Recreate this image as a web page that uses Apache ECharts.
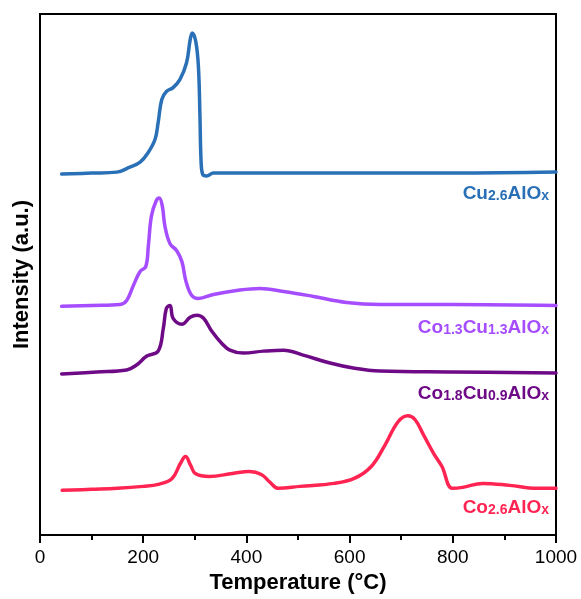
<!DOCTYPE html>
<html>
<head>
<meta charset="utf-8">
<script src="https://cdn.jsdelivr.net/npm/echarts@6/dist/echarts.min.js"></script>
<style>
html,body{margin:0;padding:0;background:#fff;}
#c{width:581px;height:599px;}
</style>
</head>
<body>
<div id="c"></div>
<script>
// ---- data (Temperature in °C, intensity in a.u. with vertical offsets) ----
const xTicks = [0, 200, 400, 600, 800, 1000];
const seriesNames = ['Cu2.6AlOx', 'Co1.3Cu1.3AlOx', 'Co1.8Cu0.9AlOx', 'Co2.6AlOx'];

const cuT = [42, 100, 149, 174, 194, 210, 223, 229, 236, 245, 258, 271, 284, 291, 295, 302, 307, 310, 312, 315, 323, 336, 400, 600, 800, 1000];
const cuI = [363, 364, 365, 370, 375, 385, 398, 415, 438, 446, 450, 458, 475, 498, 505, 496, 471, 421, 378, 363, 361, 364, 364, 364, 364, 365];

const co13T = [42, 100, 155, 168, 181, 194, 205, 210, 216, 225, 231, 237, 242, 252, 265, 275, 283, 294, 307, 336, 381, 426, 472, 530, 594, 659, 800, 1000];
const co13I = [230, 231, 232, 236, 251, 265, 270, 291, 321, 336, 339, 331, 311, 293, 286, 275, 255, 241, 238, 242, 246, 248, 245, 240, 234, 232, 232, 231];

const co18T = [42, 110, 168, 187, 207, 229, 239, 245, 252, 258, 275, 291, 304, 317, 333, 352, 368, 394, 433, 472, 510, 562, 607, 659, 800, 1000];
const co18I = [162, 164, 166, 171, 180, 185, 208, 228, 231, 218, 212, 219, 221, 218, 205, 193, 186, 183, 185, 186, 181, 173, 168, 165, 164, 163];

const co26T = [43, 100, 150, 200, 229, 256, 272, 282, 292, 301, 328, 373, 406, 429, 446, 462, 504, 570, 609, 642, 668, 694, 713, 727, 743, 763, 779, 799, 819, 858, 910, 963, 1000];
const co26I = [45, 46, 47, 49, 51, 57, 72, 79, 70, 62, 59, 62, 64, 61, 53, 47, 49, 52, 57, 69, 90, 114, 120, 116, 101, 82, 69, 47, 48, 52, 50, 47, 47];

// ---- build ----
const colors = ['#2a70b6', '#a64dff', '#6e0a86', '#ff2452'];
const zip = (t, v) => t.map((x, i) => [x, v[i]]);
const dataSets = [zip(cuT, cuI), zip(co13T, co13I), zip(co18T, co18I), zip(co26T, co26I)];

const labelRich = (color) => ({
  m: { fontFamily: 'Liberation Sans, Arial', fontWeight: 'bold', fontSize: 19, color: color, verticalAlign: 'bottom', lineHeight: 20 },
  s: { fontFamily: 'Liberation Sans, Arial', fontWeight: 'bold', fontSize: 14, color: color, verticalAlign: 'bottom', lineHeight: 17 }
});
const labelTexts = [
  '{m|Cu}{s|2.6}{m|AlO}{s|x}',
  '{m|Co}{s|1.3}{m|Cu}{s|1.3}{m|AlO}{s|x}',
  '{m|Co}{s|1.8}{m|Cu}{s|0.9}{m|AlO}{s|x}',
  '{m|Co}{s|2.6}{m|AlO}{s|x}'
];
const labelY = [193, 327, 393, 507];

const chart = echarts.init(document.getElementById('c'), null, { renderer: 'canvas' });
chart.setOption({
  backgroundColor: '#ffffff',
  animation: false,
  grid: { left: 40, right: 25, top: 14, bottom: 61, show: true, borderColor: '#000', borderWidth: 2, backgroundColor: 'transparent' },
  xAxis: {
    type: 'value', min: 0, max: 1000, interval: 200,
    name: 'Temperature (°C)', nameLocation: 'middle', nameGap: 35,
    nameTextStyle: { fontFamily: 'Liberation Sans, Arial', fontWeight: 'bold', fontSize: 22, color: '#000' },
    axisLine: { show: true, onZero: false, lineStyle: { color: '#000', width: 2 } },
    axisTick: { show: true, inside: false, length: 8, lineStyle: { color: '#000', width: 2 } },
    minorTick: { show: true, splitNumber: 2, length: 5, lineStyle: { color: '#000', width: 2 } },
    axisLabel: { margin: 13, fontFamily: 'Liberation Sans, Arial', fontSize: 19, color: '#000',
      formatter: (v) => xTicks.includes(v) ? String(v) : '' },
    splitLine: { show: false }
  },
  yAxis: {
    type: 'value', min: 0, max: 524,
    name: 'Intensity (a.u.)', nameLocation: 'middle', nameGap: 7,
    nameTextStyle: { fontFamily: 'Liberation Sans, Arial', fontWeight: 'bold', fontSize: 22, color: '#000' },
    axisLine: { show: true, lineStyle: { color: '#000', width: 2 } },
    axisTick: { show: false }, axisLabel: { show: false }, splitLine: { show: false }
  },
  series: dataSets.map((d, i) => ({
    name: seriesNames[i], type: 'line', data: d, showSymbol: false, symbol: 'none',
    smooth: 0.4,
    lineStyle: { color: colors[i], width: 3.5, join: 'round', cap: 'round' }, z: 3
  })),
  graphic: labelTexts.map((t, i) => ({
    type: 'text', x: 549, y: labelY[i], z: 10,
    style: { text: t, rich: labelRich(colors[i]), align: 'right', verticalAlign: 'middle', fill: colors[i] }
  }))
});
</script>
</body>
</html>
